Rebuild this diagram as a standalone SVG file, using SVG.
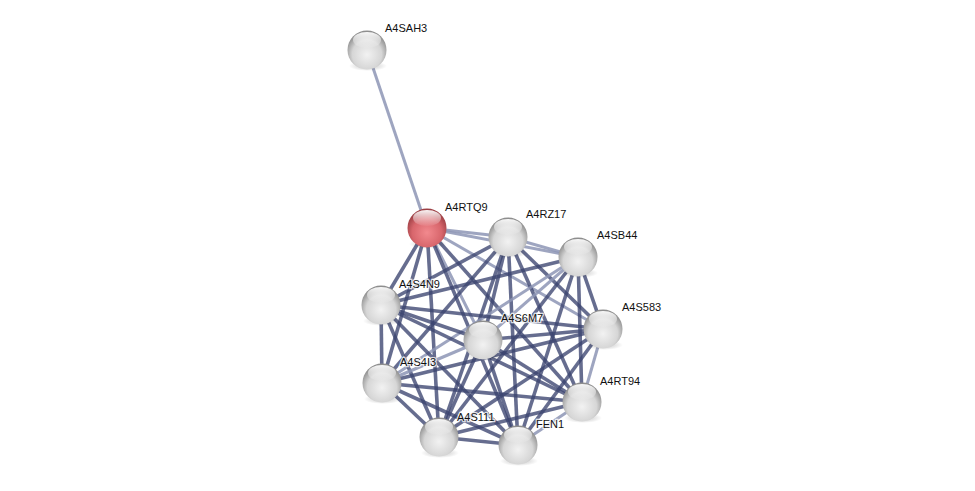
<svg xmlns="http://www.w3.org/2000/svg" width="975" height="491" viewBox="0 0 975 491">
<defs>
<radialGradient id="gw" cx="50%" cy="62%" r="58%">
<stop offset="0" stop-color="#f2f2f2"/>
<stop offset="0.65" stop-color="#d6d6d6"/>
<stop offset="1" stop-color="#8e8e8e"/>
</radialGradient>
<radialGradient id="gr" cx="50%" cy="62%" r="58%">
<stop offset="0" stop-color="#f2898e"/>
<stop offset="0.65" stop-color="#d8666c"/>
<stop offset="1" stop-color="#9c3f44"/>
</radialGradient>
<linearGradient id="hl" x1="0" y1="0" x2="0" y2="1">
<stop offset="0" stop-color="#ffffff" stop-opacity="0.95"/>
<stop offset="1" stop-color="#ffffff" stop-opacity="0.05"/>
</linearGradient>
<radialGradient id="sh" cx="50%" cy="50%" r="50%">
<stop offset="0" stop-color="#000" stop-opacity="0.25"/>
<stop offset="1" stop-color="#000" stop-opacity="0"/>
</radialGradient>
</defs>
<style>
.e{stroke:#3b4470;stroke-width:3.6;stroke-opacity:0.78;fill:none}
.l{stroke:#8d95b5;stroke-width:3;stroke-opacity:0.85;fill:none}
.t{font-family:"Liberation Sans",Arial,sans-serif;font-size:11px;fill:#111;paint-order:stroke;stroke:#fff;stroke-width:2.5px;stroke-opacity:0.8}
</style>
<rect width="975" height="491" fill="#fff"/>
<g id="edges">
<line class="l" x1="367" y1="50" x2="427" y2="228"/>
<line class="l" x1="427" y1="228" x2="508" y2="237"/>
<line class="l" x1="427" y1="228" x2="578" y2="257"/>
<line class="e" x1="427" y1="228" x2="381" y2="305"/>
<line class="l" x1="427" y1="228" x2="483" y2="340"/>
<line class="l" x1="427" y1="228" x2="603" y2="329"/>
<line class="e" x1="427" y1="228" x2="382" y2="383"/>
<line class="e" x1="427" y1="228" x2="582" y2="402"/>
<line class="e" x1="427" y1="228" x2="439" y2="437"/>
<line class="e" x1="427" y1="228" x2="518" y2="445"/>
<line class="l" x1="508" y1="237" x2="578" y2="257"/>
<line class="e" x1="508" y1="237" x2="381" y2="305"/>
<line class="e" x1="508" y1="237" x2="483" y2="340"/>
<line class="e" x1="508" y1="237" x2="603" y2="329"/>
<line class="e" x1="508" y1="237" x2="382" y2="383"/>
<line class="e" x1="508" y1="237" x2="582" y2="402"/>
<line class="e" x1="508" y1="237" x2="439" y2="437"/>
<line class="e" x1="508" y1="237" x2="518" y2="445"/>
<line class="e" x1="578" y1="257" x2="381" y2="305"/>
<line class="l" x1="578" y1="257" x2="483" y2="340"/>
<line class="e" x1="578" y1="257" x2="603" y2="329"/>
<line class="l" x1="578" y1="257" x2="382" y2="383"/>
<line class="e" x1="578" y1="257" x2="582" y2="402"/>
<line class="e" x1="578" y1="257" x2="439" y2="437"/>
<line class="e" x1="578" y1="257" x2="518" y2="445"/>
<line class="e" x1="381" y1="305" x2="483" y2="340"/>
<line class="e" x1="381" y1="305" x2="603" y2="329"/>
<line class="e" x1="381" y1="305" x2="382" y2="383"/>
<line class="e" x1="381" y1="305" x2="582" y2="402"/>
<line class="e" x1="381" y1="305" x2="439" y2="437"/>
<line class="e" x1="381" y1="305" x2="518" y2="445"/>
<line class="e" x1="483" y1="340" x2="603" y2="329"/>
<line class="l" x1="483" y1="340" x2="382" y2="383"/>
<line class="e" x1="483" y1="340" x2="582" y2="402"/>
<line class="e" x1="483" y1="340" x2="439" y2="437"/>
<line class="e" x1="483" y1="340" x2="518" y2="445"/>
<line class="e" x1="603" y1="329" x2="382" y2="383"/>
<line class="l" x1="603" y1="329" x2="582" y2="402"/>
<line class="e" x1="603" y1="329" x2="439" y2="437"/>
<line class="e" x1="603" y1="329" x2="518" y2="445"/>
<line class="e" x1="382" y1="383" x2="582" y2="402"/>
<line class="e" x1="382" y1="383" x2="439" y2="437"/>
<line class="e" x1="382" y1="383" x2="518" y2="445"/>
<line class="e" x1="582" y1="402" x2="439" y2="437"/>
<line class="l" x1="582" y1="402" x2="518" y2="445"/>
<line class="e" x1="439" y1="437" x2="518" y2="445"/>
</g>
<g id="A4SAH3"><ellipse cx="368" cy="66" rx="19" ry="5" fill="url(#sh)"/><circle cx="367" cy="50" r="19.5" fill="url(#gw)"/><ellipse cx="367" cy="40" rx="14" ry="8" fill="url(#hl)"/><text class="t" x="385" y="32">A4SAH3</text></g>
<g id="A4RTQ9"><ellipse cx="428" cy="244" rx="19" ry="5" fill="url(#sh)"/><circle cx="427" cy="228" r="19.5" fill="url(#gr)"/><ellipse cx="427" cy="218" rx="14" ry="8" fill="url(#hl)"/><text class="t" x="445" y="211">A4RTQ9</text></g>
<g id="A4RZ17"><ellipse cx="509" cy="253" rx="19" ry="5" fill="url(#sh)"/><circle cx="508" cy="237" r="19.5" fill="url(#gw)"/><ellipse cx="508" cy="227" rx="14" ry="8" fill="url(#hl)"/><text class="t" x="526" y="218">A4RZ17</text></g>
<g id="A4SB44"><ellipse cx="579" cy="273" rx="19" ry="5" fill="url(#sh)"/><circle cx="578" cy="257" r="19.5" fill="url(#gw)"/><ellipse cx="578" cy="247" rx="14" ry="8" fill="url(#hl)"/><text class="t" x="597" y="239">A4SB44</text></g>
<g id="A4S4N9"><ellipse cx="382" cy="321" rx="19" ry="5" fill="url(#sh)"/><circle cx="381" cy="305" r="19.5" fill="url(#gw)"/><ellipse cx="381" cy="295" rx="14" ry="8" fill="url(#hl)"/><text class="t" x="399" y="288">A4S4N9</text></g>
<g id="A4S6M7"><ellipse cx="484" cy="356" rx="19" ry="5" fill="url(#sh)"/><circle cx="483" cy="340" r="19.5" fill="url(#gw)"/><ellipse cx="483" cy="330" rx="14" ry="8" fill="url(#hl)"/><text class="t" x="501" y="322">A4S6M7</text></g>
<g id="A4S583"><ellipse cx="604" cy="345" rx="19" ry="5" fill="url(#sh)"/><circle cx="603" cy="329" r="19.5" fill="url(#gw)"/><ellipse cx="603" cy="319" rx="14" ry="8" fill="url(#hl)"/><text class="t" x="622" y="311">A4S583</text></g>
<g id="A4S4I3"><ellipse cx="383" cy="399" rx="19" ry="5" fill="url(#sh)"/><circle cx="382" cy="383" r="19.5" fill="url(#gw)"/><ellipse cx="382" cy="373" rx="14" ry="8" fill="url(#hl)"/><text class="t" x="400" y="366">A4S4I3</text></g>
<g id="A4RT94"><ellipse cx="583" cy="418" rx="19" ry="5" fill="url(#sh)"/><circle cx="582" cy="402" r="19.5" fill="url(#gw)"/><ellipse cx="582" cy="392" rx="14" ry="8" fill="url(#hl)"/><text class="t" x="600" y="385">A4RT94</text></g>
<g id="A4S111"><ellipse cx="440" cy="453" rx="19" ry="5" fill="url(#sh)"/><circle cx="439" cy="437" r="19.5" fill="url(#gw)"/><ellipse cx="439" cy="427" rx="14" ry="8" fill="url(#hl)"/><text class="t" x="457" y="421">A4S111</text></g>
<g id="FEN1"><ellipse cx="519" cy="461" rx="19" ry="5" fill="url(#sh)"/><circle cx="518" cy="445" r="19.5" fill="url(#gw)"/><ellipse cx="518" cy="435" rx="14" ry="8" fill="url(#hl)"/><text class="t" x="536" y="428">FEN1</text></g>
</svg>
